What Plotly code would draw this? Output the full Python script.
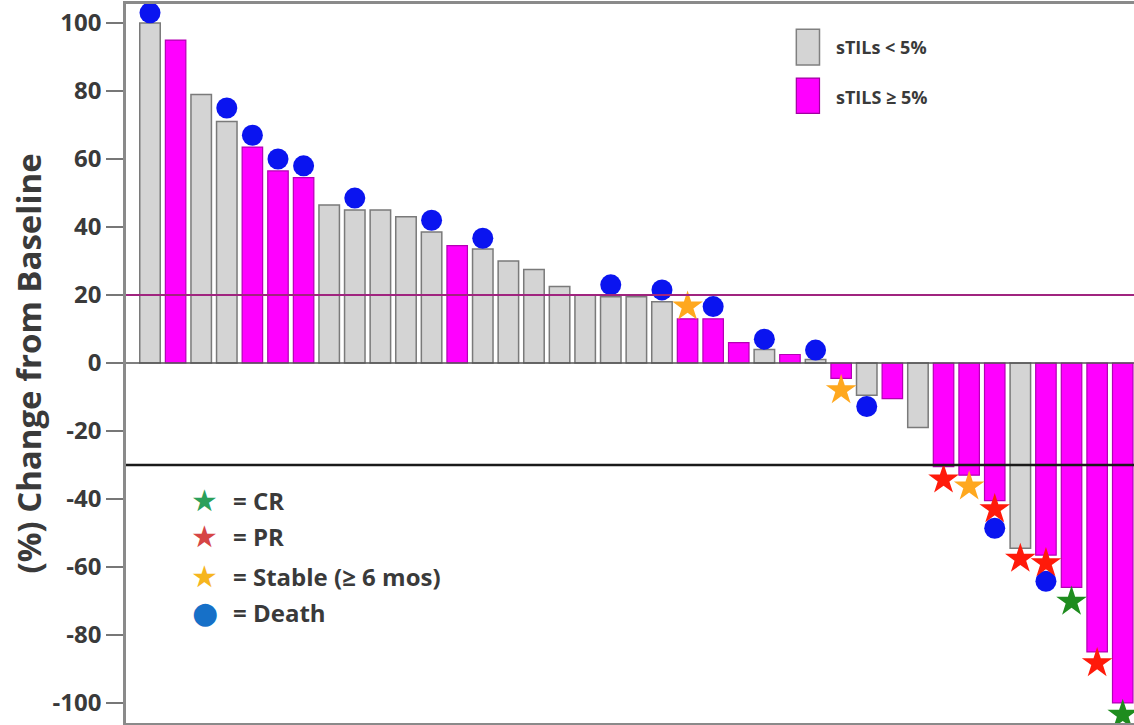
import plotly.graph_objects as go

# ---- data ----
patients = list(range(1, 40))
pct_change = [100, 95, 79, 71, 63.5, 56.5, 54.5, 46.5, 45, 45,
              43, 38.5, 34.5, 33.5, 30, 27.5, 22.5, 20, 19.5, 19.5,
              18, 13, 13, 6, 4, 2.5, 1, -4.5, -9.5, -10.5,
              -19, -30.5, -33, -40.5, -54.5, -56.5, -66, -85, -100]
stils_group = ["low", "high", "low", "low", "high", "high", "high", "low", "low", "low",
               "low", "low", "high", "low", "low", "low", "low", "low", "low", "low",
               "low", "high", "high", "high", "low", "high", "low", "high", "low", "high",
               "low", "high", "high", "high", "low", "high", "high", "high", "high"]

death_x = [1, 4, 5, 6, 7, 9, 12, 14, 19, 21, 23, 25, 27, 29, 34, 36]
death_y = [103, 75, 67, 60, 58, 48.5, 42, 36.7, 23, 21.5, 16.6, 7, 3.8, -12.8, -48.6, -64.2]
cr_x = [37, 39]
cr_y = [-70.2, -103.5]
pr_x = [32, 34, 35, 36, 38]
pr_y = [-34.3, -43, -57.6, -58.9, -88.3]
stable_x = [22, 28, 33]
stable_y = [16.6, -8, -36.3]

pd_threshold = 20
pr_threshold = -30
y_ticks = [100, 80, 60, 40, 20, 0, -20, -40, -60, -80, -100]
y_tick_labels = ["100", "80", "60", "40", "20", "0", "-20", "-40", "-60", "-80", "-100"]

GRAY = "#d4d4d4"
MAG = "#ff00ff"
FONT = "Open Sans"
TXT = "#3a3a3a"

fig = go.Figure()

low_x = [p for p, g in zip(patients, stils_group) if g == "low"]
low_y = [v for v, g in zip(pct_change, stils_group) if g == "low"]
high_x = [p for p, g in zip(patients, stils_group) if g == "high"]
high_y = [v for v, g in zip(pct_change, stils_group) if g == "high"]

fig.add_trace(go.Bar(x=low_x, y=low_y, name="sTILs < 5%", width=0.8,
                     marker=dict(color=GRAY, line=dict(color="#7a7a7a", width=1.5))))
fig.add_trace(go.Bar(x=high_x, y=high_y, name="sTILS ≥ 5%", width=0.8,
                     marker=dict(color=MAG, line=dict(color="#b400b4", width=1.2))))

# threshold lines
fig.add_hline(y=pd_threshold, line=dict(color="#a0247f", width=2))
fig.add_hline(y=pr_threshold, line=dict(color="#1a1a1a", width=2.5))
fig.add_hline(y=0, line=dict(color="#555555", width=1.5))

fig.add_trace(go.Scatter(x=death_x, y=death_y, mode="markers", name="Death",
                         marker=dict(symbol="circle", size=21, color="#0a14f0")))
fig.add_trace(go.Scatter(x=stable_x, y=stable_y, mode="markers", name="Stable",
                         marker=dict(symbol="star", size=23, color="#ffa81e")))
fig.add_trace(go.Scatter(x=pr_x, y=pr_y, mode="markers", name="PR",
                         marker=dict(symbol="star", size=23, color="#ff1a0a")))
fig.add_trace(go.Scatter(x=cr_x, y=cr_y, mode="markers", name="CR",
                         marker=dict(symbol="star", size=23, color="#1e8c1e")))

# legend for bars (top right)
fig.add_shape(type="rect", xref="paper", yref="paper",
              x0=0.665, x1=0.688, y0=0.915, y1=0.965,
              fillcolor=GRAY, line=dict(color="#808080", width=1.5))
fig.add_shape(type="rect", xref="paper", yref="paper",
              x0=0.665, x1=0.688, y0=0.848, y1=0.897,
              fillcolor=MAG, line=dict(color="#a000a0", width=1.2))
fig.add_annotation(xref="paper", yref="paper", x=0.702, y=0.940, xanchor="left",
                   yanchor="middle", showarrow=False, text="<b>sTILs < 5%</b>",
                   font=dict(family=FONT, size=18, color=TXT))
fig.add_annotation(xref="paper", yref="paper", x=0.702, y=0.871, xanchor="left",
                   yanchor="middle", showarrow=False, text="<b>sTILS ≥ 5%</b>",
                   font=dict(family=FONT, size=18, color=TXT))

# legend for response markers (bottom left)
legend_items = [("★", "#2ba05a", "= CR", 0.310),
                ("★", "#d64545", "= PR", 0.259),
                ("★", "#f6b51e", "= Stable (≥ 6 mos)", 0.204),
                ("●", "#1670c8", "= Death", 0.153)]
for sym, col, label, yy in legend_items:
    fig.add_annotation(xref="paper", yref="paper", x=0.078, y=yy, xanchor="center",
                       yanchor="middle", showarrow=False, text=sym,
                       font=dict(family="DejaVu Sans", size=30, color=col))
    fig.add_annotation(xref="paper", yref="paper", x=0.104, y=yy, xanchor="left",
                       yanchor="middle", showarrow=False, text="<b>" + label + "</b>",
                       font=dict(family=FONT, size=24, color=TXT))

# y axis title
fig.add_annotation(xref="paper", yref="paper", x=-0.0972, y=0.5, xanchor="center",
                   yanchor="middle", showarrow=False, textangle=-90,
                   text="<b>(%) Change from Baseline</b>",
                   font=dict(family=FONT, size=33, color=TXT))

fig.update_layout(
    width=1134, height=725,
    margin=dict(l=126, r=0, t=4, b=2, autoexpand=False),
    paper_bgcolor="white", plot_bgcolor="white",
    showlegend=False, barmode="overlay",
    xaxis=dict(range=[0.0625, 39.44], showticklabels=False, showgrid=False,
               zeroline=False, ticks="", showline=True, linecolor="#8a8a8a",
               linewidth=2.5, mirror=True, automargin=False),
    yaxis=dict(range=[-105.9, 105.6], tickvals=y_ticks, ticktext=y_tick_labels,
               showgrid=False,
               zeroline=False, ticks="outside", ticklen=17, tickcolor="#777777",
               tickwidth=1.5, showline=True, linecolor="#8a8a8a", linewidth=2.5,
               automargin=False,
               tickfont=dict(family=FONT, size=24, color=TXT, weight="bold")),
)

fig.write_html("out.html", config={"displayModeBar": False},
               post_script="document.body.style.margin='0';document.body.style.overflow='hidden';")
